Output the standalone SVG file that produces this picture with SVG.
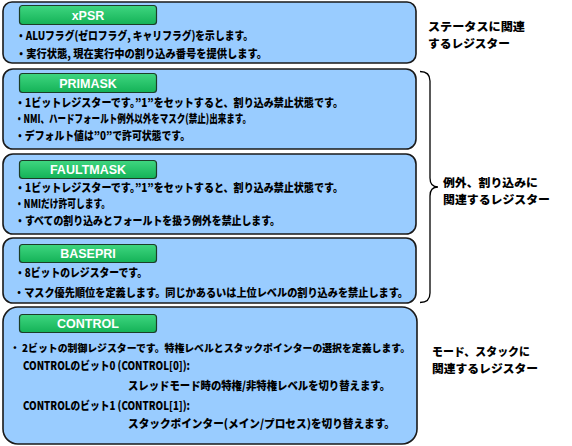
<svg xmlns="http://www.w3.org/2000/svg" width="572" height="446" viewBox="0 0 572 446">
<defs>
<linearGradient id="g" x1="0" y1="0" x2="0" y2="1">
<stop offset="0" stop-color="#3fd680"/>
<stop offset="1" stop-color="#14b257"/>
</linearGradient>
<style>
.box{fill:#99ccff;stroke:#1a1a1a;stroke-width:1.6}
.btn{fill:url(#g);stroke:#1c3d28;stroke-width:1.2}
.bt{font-family:"Liberation Sans",Arial,sans-serif;font-weight:bold;font-size:12.5px;fill:#ffffff;text-anchor:middle}
.t{font-family:"Noto Sans CJK JP","Liberation Sans",sans-serif;font-weight:900;font-size:11.5px;fill:#000000}
.lab{font-family:"Noto Sans CJK JP","Liberation Sans",sans-serif;font-weight:900;font-size:11.5px;fill:#000000}
.br{fill:none;stroke:#000000;stroke-width:1.3}
</style>
</defs>
<rect width="572" height="446" fill="#ffffff"/>

<g id="xpsr">
<rect class="box" x="3" y="2" width="413" height="61" rx="9"/>
<rect class="btn" x="19.5" y="5.5" width="137" height="19" rx="3"/>
<text class="bt" x="88" y="19.5">xPSR</text>
<text class="t" x="16" y="39.5" textLength="237" lengthAdjust="spacingAndGlyphs">・ALUフラグ(ゼロフラグ, キャリフラグ)を示します。</text>
<text class="t" x="16" y="57.5" textLength="251" lengthAdjust="spacingAndGlyphs">・実行状態, 現在実行中の割り込み番号を提供します。</text>
</g>

<g id="primask">
<rect class="box" x="3" y="69" width="413" height="80" rx="10"/>
<rect class="btn" x="19.5" y="73.5" width="137" height="19" rx="3"/>
<text class="bt" x="88" y="87.5">PRIMASK</text>
<text class="t" x="15" y="106.5" textLength="328" lengthAdjust="spacingAndGlyphs">・1ビットレジスターです。”1”をセットすると、割り込み禁止状態です。</text>
<text class="t" x="15" y="122.5" textLength="236" lengthAdjust="spacingAndGlyphs">・NMI、ハードフォールト例外以外をマスク(禁止)出来ます。</text>
<text class="t" x="15" y="139.5" textLength="175" lengthAdjust="spacingAndGlyphs">・デフォルト値は”0”で許可状態です。</text>
</g>

<g id="faultmask">
<rect class="box" x="3" y="154" width="413" height="80" rx="10"/>
<rect class="btn" x="19.5" y="160.5" width="137" height="18" rx="3"/>
<text class="bt" x="88" y="174">FAULTMASK</text>
<text class="t" x="15" y="191.5" textLength="328" lengthAdjust="spacingAndGlyphs">・1ビットレジスターです。”1”をセットすると、割り込み禁止状態です。</text>
<text class="t" x="15" y="207.5" textLength="95" lengthAdjust="spacingAndGlyphs">・NMIだけ許可します。</text>
<text class="t" x="15" y="224.5" textLength="265" lengthAdjust="spacingAndGlyphs">・すべての割り込みとフォールトを扱う例外を禁止します。</text>
</g>

<g id="basepri">
<rect class="box" x="3" y="238" width="413" height="65" rx="10"/>
<rect class="btn" x="19.5" y="244.5" width="137" height="18" rx="3"/>
<text class="bt" x="88" y="258">BASEPRI</text>
<text class="t" x="15" y="276.5" textLength="132" lengthAdjust="spacingAndGlyphs">・8ビットのレジスターです。</text>
<text class="t" x="14" y="296.5" style="font-size:10.8px" textLength="394" lengthAdjust="spacingAndGlyphs">・マスク優先順位を定義します。同じかあるいは上位レベルの割り込みを禁止します。</text>
</g>

<g id="control">
<rect class="box" x="3" y="307" width="414" height="137" rx="15"/>
<rect class="btn" x="19.5" y="314.5" width="137" height="18" rx="3"/>
<text class="bt" x="88" y="328">CONTROL</text>
<text class="t" x="10" y="351.5" style="font-size:10.3px" textLength="400" lengthAdjust="spacingAndGlyphs">・ 2ビットの制御レジスターです。特権レベルとスタックポインターの選択を定義します。</text>
<text class="t" x="23" y="369.5" textLength="167" lengthAdjust="spacingAndGlyphs">CONTROLのビット0 (CONTROL[0]):</text>
<text class="t" x="128" y="389.5" textLength="262" lengthAdjust="spacingAndGlyphs">スレッドモード時の特権/非特権レベルを切り替えます。</text>
<text class="t" x="23" y="409.5" textLength="167" lengthAdjust="spacingAndGlyphs">CONTROLのビット1 (CONTROL[1]):</text>
<text class="t" x="128" y="427.5" textLength="267" lengthAdjust="spacingAndGlyphs">スタックポインター(メイン/プロセス)を切り替えます。</text>
</g>

<g id="connectors">
<path class="br" d="M420,71.5 Q430,71.5 430,81 L430,178 Q430,187 438,187 Q430,187 430,196 L430,293 Q430,302.5 420,302.5"/>
</g>

<g id="labels">
<text class="lab" x="428" y="31" textLength="97" lengthAdjust="spacingAndGlyphs">ステータスに関連</text>
<text class="lab" x="428" y="48" textLength="82" lengthAdjust="spacingAndGlyphs">するレジスター</text>
<text class="lab" x="443" y="187" textLength="95" lengthAdjust="spacingAndGlyphs">例外、割り込みに</text>
<text class="lab" x="443" y="204" textLength="107" lengthAdjust="spacingAndGlyphs">関連するレジスター</text>
<text class="lab" x="432" y="356" textLength="98" lengthAdjust="spacingAndGlyphs">モード、スタックに</text>
<text class="lab" x="432" y="373" textLength="106" lengthAdjust="spacingAndGlyphs">関連するレジスター</text>
</g>
</svg>
